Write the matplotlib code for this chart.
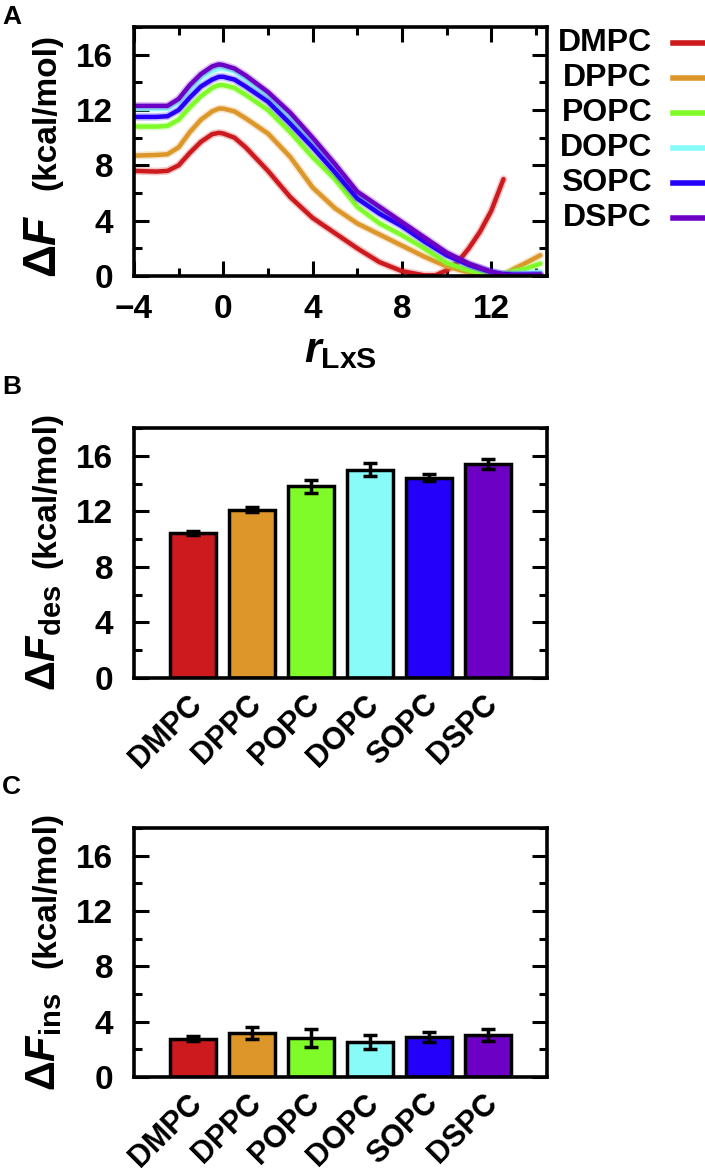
import matplotlib
matplotlib.use("Agg")
import matplotlib.pyplot as plt
import matplotlib.transforms as mtransforms
from matplotlib.lines import Line2D
from matplotlib.ticker import MultipleLocator

plt.rcParams['font.family'] = ['Liberation Sans', 'DejaVu Sans']
plt.rcParams['font.weight'] = 'bold'
plt.rcParams['mathtext.fontset'] = 'custom'
plt.rcParams['mathtext.rm'] = 'Liberation Sans:bold'
plt.rcParams['mathtext.bf'] = 'Liberation Sans:bold'
plt.rcParams['mathtext.it'] = 'Liberation Sans:italic:bold'

lipids = ['DMPC', 'DPPC', 'POPC', 'DOPC', 'SOPC', 'DSPC']
colors = ['#cc1a1e', '#dd962a', '#80fb2a', '#88fbf9', '#2400fb', '#6c00c4']

# panel A: free energy profiles along r_LxS
r_dmpc = [-4, -3, -2.5, -2, -1.5, -1, -0.5, -0.2, 0, 0.5, 1, 2, 3, 4, 5, 6, 7, 8, 9, 9.5, 10, 10.5, 11, 11.5, 12, 12.55]
f_dmpc = [7.6, 7.55, 7.6, 8.0, 8.9, 9.7, 10.25, 10.35, 10.3, 10.0, 9.3, 7.6, 5.7, 4.2, 3.1, 2.0, 1.0, 0.35, 0.05, 0.05, 0.4, 1.0, 2.0, 3.2, 4.7, 7.0]

r_prof = [-4, -3, -2.5, -2, -1.5, -1, -0.5, -0.2, 0, 0.5, 1, 2, 3, 4, 5, 6, 7, 8, 9, 10, 11, 12, 12.5, 13, 13.5, 14.2]
f_dppc = [8.7, 8.75, 8.8, 9.3, 10.4, 11.3, 11.9, 12.1, 12.1, 11.9, 11.4, 10.3, 8.6, 6.4, 4.9, 3.8, 3.0, 2.2, 1.4, 0.7, 0.25, 0.05, 0.02, 0.5, 0.9, 1.5]
f_popc = [10.8, 10.8, 10.85, 11.3, 12.2, 13.0, 13.6, 13.8, 13.8, 13.6, 13.1, 12.0, 10.4, 8.6, 7.0, 5.0, 3.8, 2.95, 2.0, 0.95, 0.4, 0.1, 0.1, 0.35, 0.5, 0.9]
f_dopc = [12.1, 12.1, 12.1, 12.6, 13.5, 14.3, 14.8, 15.0, 15.0, 14.8, 14.2, 13.0, 11.4, 9.7, 7.8, 5.9, 4.7, 3.7, 2.6, 1.55, 0.8, 0.25, 0.15, 0.15, 0.2, 0.3]
f_sopc = [11.5, 11.5, 11.55, 12.0, 12.9, 13.7, 14.2, 14.4, 14.4, 14.2, 13.7, 12.6, 11.0, 9.3, 7.5, 5.6, 4.5, 3.6, 2.5, 1.5, 0.8, 0.3, 0.15, 0.1, 0.1, 0.1]
f_dspc = [12.3, 12.3, 12.3, 12.8, 13.8, 14.6, 15.15, 15.3, 15.25, 15.0, 14.5, 13.3, 11.8, 10.0, 8.1, 6.1, 5.0, 3.9, 2.8, 1.7, 0.9, 0.3, 0.1, 0.05, 0.05, 0.1]

profiles = [(r_dmpc, f_dmpc), (r_prof, f_dppc), (r_prof, f_popc),
            (r_prof, f_dopc), (r_prof, f_sopc), (r_prof, f_dspc)]

# panel B / C: desorption and insertion free energies
f_des = [10.45, 12.13, 13.8, 15.0, 14.42, 15.43]
f_des_err = [0.15, 0.2, 0.45, 0.45, 0.25, 0.37]
f_ins = [2.78, 3.2, 2.83, 2.54, 2.9, 3.02]
f_ins_err = [0.2, 0.45, 0.66, 0.5, 0.38, 0.44]

W, H = 705, 1175
fig = plt.figure(figsize=(W / 100, H / 100), dpi=100)


def box(left, top, right, bottom):
    return [left / W, 1 - bottom / H, (right - left) / W, (bottom - top) / H]


def style_axes(ax):
    for s in ax.spines.values():
        s.set_linewidth(2.6)
    ax.yaxis.set_major_locator(MultipleLocator(4))
    ax.yaxis.set_minor_locator(MultipleLocator(2))
    ax.set_ylim(0, 18)
    ax.tick_params(axis='y', which='both', direction='in', left=True, right=True, width=2.2, labelsize=24, pad=15)
    ax.tick_params(axis='y', which='major', length=11)
    ax.tick_params(axis='y', which='minor', length=6)
    for lab in ax.get_yticklabels():
        lab.set_fontweight('bold')


def ylabel(main, units_bottom, main_bottom, size):
    # big symbol part and smaller units part, rotated
    fig.text(44 / W, 1 - main_bottom / H, main, rotation=90, ha='center', va='bottom', fontsize=size)
    fig.text(47 / W, 1 - units_bottom / H, '(kcal/mol)', rotation=90, ha='center', va='bottom',
             fontsize=24, fontweight='bold')


# ---- A ----
axA = fig.add_axes(box(134, 27, 547, 276))
for (xs, ys), c in zip(profiles, colors):
    axA.plot(xs, ys, color=c, lw=5.5, alpha=0.25, solid_capstyle='round')
    axA.plot(xs, ys, color=c, lw=3.2, solid_capstyle='round')
axA.set_xlim(-4, 14.5)
axA.xaxis.set_major_locator(MultipleLocator(4))
axA.xaxis.set_minor_locator(MultipleLocator(2))
style_axes(axA)
axA.tick_params(axis='x', which='both', direction='in', top=True, bottom=True, width=2.2, labelsize=24, pad=13)
axA.tick_params(axis='x', which='major', length=11)
axA.tick_params(axis='x', which='minor', length=6)
axA.set_xlabel(r'$r_{\rm LxS}$', fontsize=31, labelpad=4)
ylabel(r'$\Delta F$', 190, 278, 33)

# legend, gnuplot style: label then line
for i, (name, c) in enumerate(zip(lipids, colors)):
    yy = 1 - (43 + i * 35) / H
    fig.text(652 / W, yy, name, ha='right', va='center', fontsize=23, fontweight='bold')
    fig.add_artist(Line2D([673 / W, 710 / W], [yy, yy], color=c, lw=4))

# ---- B and C ----
pos = range(1, len(lipids) + 1)
shift = mtransforms.ScaledTranslation(-0.06, 0, fig.dpi_scale_trans)
for top, bottom, vals, errs, sub, ub, mb in [
        (428, 678, f_des, f_des_err, 'des', 568, 691),
        (828, 1077, f_ins, f_ins_err, 'ins', 968, 1091)]:
    ax = fig.add_axes(box(134, top, 547, bottom))
    ax.bar(pos, vals, width=0.77, color=colors, edgecolor='black', linewidth=2.5, zorder=2)
    ax.errorbar(pos, vals, yerr=errs, fmt='none', ecolor='black', elinewidth=2.5,
                capsize=5, capthick=2.5, zorder=3)
    ax.set_xlim(0, 7)
    style_axes(ax)
    ax.set_xticks(list(pos))
    ax.set_xticklabels(lipids, rotation=45, ha='right', va='top', rotation_mode='anchor',
                       fontsize=22, fontweight='bold')
    ax.tick_params(axis='x', length=0, pad=8)
    for lab in ax.get_xticklabels():
        lab.set_transform(lab.get_transform() + shift)
    ylabel(r'$\Delta F_{\rm %s}$' % sub, ub, mb, 30)

fig.text(2 / W, 1 - 5 / H, 'A', ha='left', va='top', fontsize=19, fontweight='bold')
fig.text(2 / W, 1 - 375 / H, 'B', ha='left', va='top', fontsize=19, fontweight='bold')
fig.text(2 / W, 1 - 775 / H, 'C', ha='left', va='top', fontsize=19, fontweight='bold')

fig.savefig('out.png', dpi=100)
